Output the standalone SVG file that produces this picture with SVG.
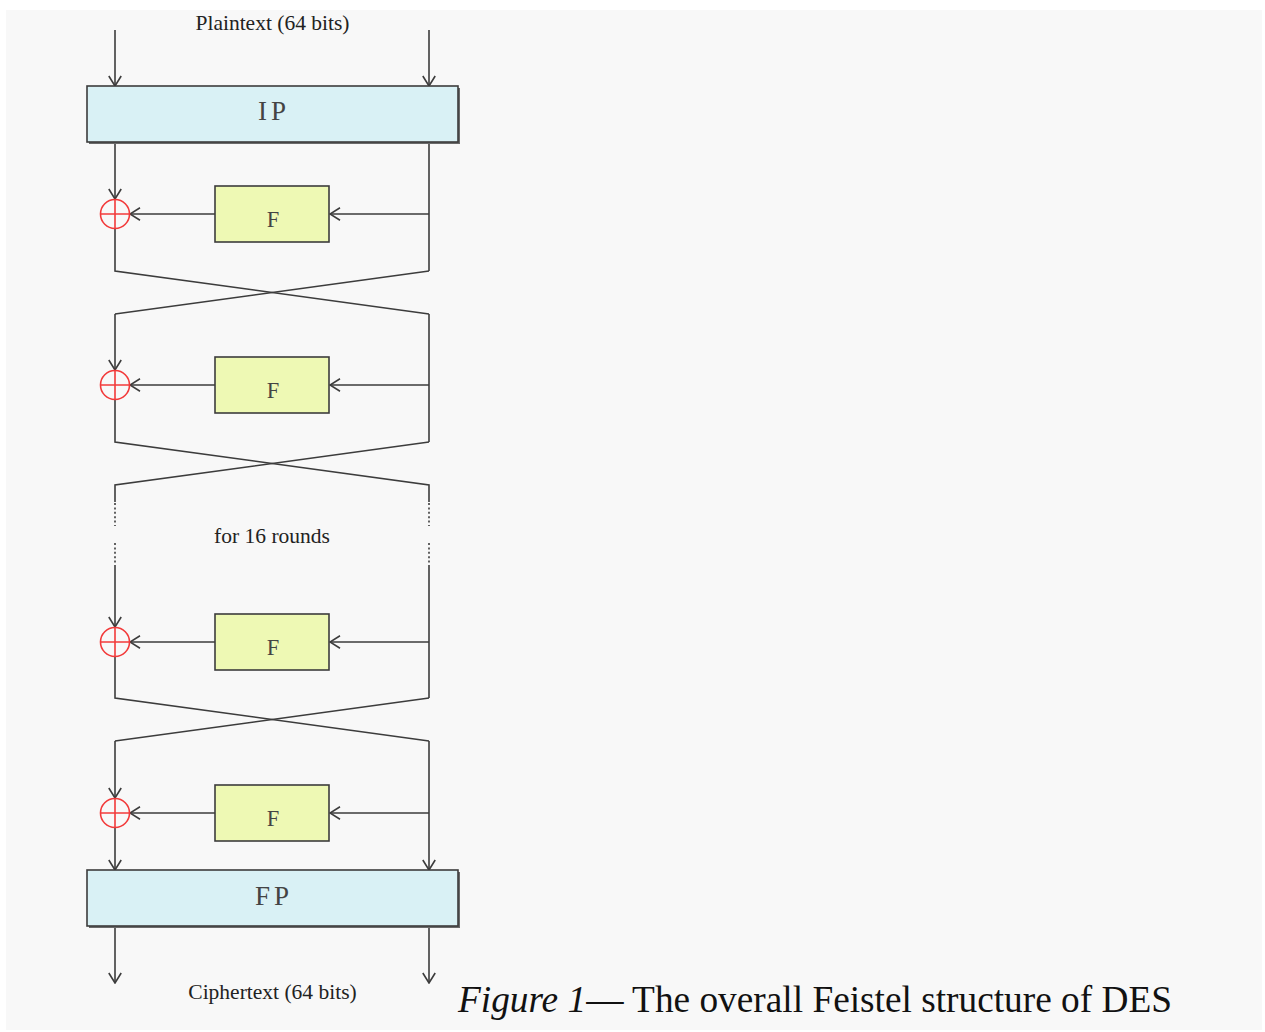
<svg xmlns="http://www.w3.org/2000/svg" width="1265" height="1032" viewBox="0 0 1265 1032">
<defs>
<style>
.ln{fill:none;stroke:#3c3c3c;stroke-width:1.6}
.ar{marker-end:url(#arr)}
.dot{fill:none;stroke:#3c3c3c;stroke-width:1.6;stroke-dasharray:2 2.4}
.perm{fill:#d9f1f5;stroke:#3c3c3c;stroke-width:1.6}
.fbox{fill:#eef9b4;stroke:#3c3c3c;stroke-width:1.6}
.xor{fill:none;stroke:#f23a3a;stroke-width:1.6}
.mono{font-family:"Liberation Serif","Times New Roman",serif;fill:#444;text-anchor:middle}
.lbl{font-family:"Liberation Serif","Times New Roman",serif;font-size:21.5px;fill:#222;text-anchor:middle}
.cap{font-family:"Liberation Serif","Times New Roman",serif;font-size:37.5px;fill:#111}
</style>
<marker id="arr" viewBox="0 0 12 14" refX="11" refY="7" markerWidth="12" markerHeight="14" markerUnits="userSpaceOnUse" orient="auto">
<path d="M1,0.8 L11,7 L1,13.2" fill="none" stroke="#3c3c3c" stroke-width="1.6"/>
</marker>
</defs>
<rect x="0" y="0" width="1265" height="1032" fill="#ffffff"/>
<rect x="6" y="10" width="1256" height="1020" fill="#f8f8f8"/>

<g id="connectors">
<path class="ln ar" d="M115,30 V86"/>
<path class="ln ar" d="M429,30 V86"/>
<!-- round 1 -->
<path class="ln ar" d="M115,143 V199"/>
<path class="ln" d="M429,143 V271"/>
<path class="ln ar" d="M429,214 H330"/>
<path class="ln ar" d="M215,214 H130"/>
<path class="ln" d="M115,228.5 V271 L429,314"/>
<path class="ln" d="M429,271 L115,314"/>
<!-- round 2 -->
<path class="ln ar" d="M115,314 V370"/>
<path class="ln" d="M429,314 V442"/>
<path class="ln ar" d="M429,385 H330"/>
<path class="ln ar" d="M215,385 H130"/>
<path class="ln" d="M115,399.5 V442 L429,485 V502"/>
<path class="ln" d="M429,442 L115,485 V502"/>
<!-- ellipsis -->
<path class="dot" d="M115,503 V526 M115,543 V567"/>
<path class="dot" d="M429,503 V526 M429,543 V567"/>
<!-- round 3 -->
<path class="ln ar" d="M115,567 V627"/>
<path class="ln" d="M429,567 V698"/>
<path class="ln ar" d="M429,642 H330"/>
<path class="ln ar" d="M215,642 H130"/>
<path class="ln" d="M115,656.5 V698 L429,741"/>
<path class="ln" d="M429,698 L115,741"/>
<!-- round 4 -->
<path class="ln ar" d="M115,741 V798"/>
<path class="ln ar" d="M429,741 V870"/>
<path class="ln ar" d="M429,813 H330"/>
<path class="ln ar" d="M215,813 H130"/>
<path class="ln ar" d="M115,827.5 V870"/>
<!-- output -->
<path class="ln ar" d="M115,928 V983"/>
<path class="ln ar" d="M429,928 V983"/>
</g>

<g id="ip">
<rect x="89" y="88" width="371" height="56" fill="#6a6a6a"/>
<rect class="perm" x="87" y="86" width="371" height="56"/>
<text class="mono" x="274" y="120" font-size="27" letter-spacing="4">IP</text>
</g>

<g id="f1"><rect class="fbox" x="215" y="186" width="114" height="56"/><text class="mono" x="273" y="227" font-size="22.5">F</text></g>
<g id="xor1"><circle class="xor" cx="115" cy="214" r="14.5"/><path class="xor" d="M100.5,214 H129.5 M115,199.5 V228.5"/></g>

<g id="f2"><rect class="fbox" x="215" y="357" width="114" height="56"/><text class="mono" x="273" y="398" font-size="22.5">F</text></g>
<g id="xor2"><circle class="xor" cx="115" cy="385" r="14.5"/><path class="xor" d="M100.5,385 H129.5 M115,370.5 V399.5"/></g>

<g id="rounds-label"><text class="lbl" x="272" y="543">for 16 rounds</text></g>

<g id="f3"><rect class="fbox" x="215" y="614" width="114" height="56"/><text class="mono" x="273" y="655" font-size="22.5">F</text></g>
<g id="xor3"><circle class="xor" cx="115" cy="642" r="14.5"/><path class="xor" d="M100.5,642 H129.5 M115,627.5 V656.5"/></g>

<g id="f4"><rect class="fbox" x="215" y="785" width="114" height="56"/><text class="mono" x="273" y="826" font-size="22.5">F</text></g>
<g id="xor4"><circle class="xor" cx="115" cy="813" r="14.5"/><path class="xor" d="M100.5,813 H129.5 M115,798.5 V827.5"/></g>

<g id="fp">
<rect x="89" y="872" width="371" height="56" fill="#6a6a6a"/>
<rect class="perm" x="87" y="870" width="371" height="56"/>
<text class="mono" x="274" y="905" font-size="27" letter-spacing="4">FP</text>
</g>

<g id="plaintext"><text class="lbl" x="272.5" y="30">Plaintext (64 bits)</text></g>
<g id="ciphertext"><text class="lbl" x="272.5" y="999">Ciphertext (64 bits)</text></g>

<g id="caption"><text class="cap" x="458" y="1012" textLength="714" lengthAdjust="spacingAndGlyphs"><tspan font-style="italic">Figure 1</tspan>— The overall Feistel structure of DES</text></g>
</svg>
